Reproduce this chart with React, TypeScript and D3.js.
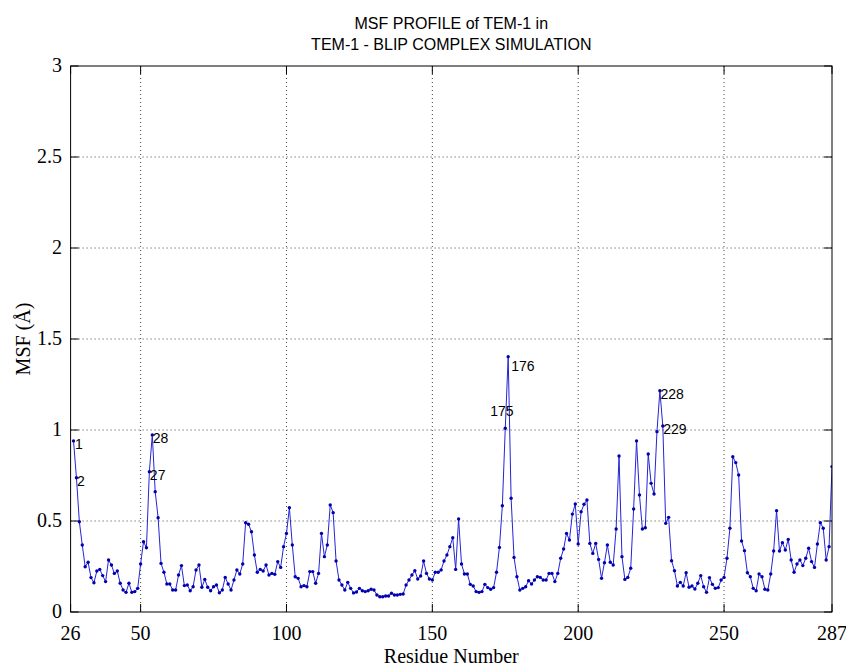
import React from "react";
import * as d3 from "d3";

const residueStart = 27;
const msfValues = [
  0.94, 0.738, 0.496, 0.368, 0.249, 0.273, 0.189, 0.161, 0.225, 0.234,
  0.2, 0.167, 0.286, 0.258, 0.212, 0.225, 0.158, 0.121, 0.108, 0.158,
  0.108, 0.112, 0.13, 0.264, 0.386, 0.353, 0.771, 0.973, 0.661, 0.518,
  0.267, 0.218, 0.154, 0.154, 0.121, 0.121, 0.203, 0.255, 0.145, 0.148,
  0.117, 0.139, 0.231, 0.258, 0.136, 0.179, 0.136, 0.117, 0.139, 0.148,
  0.106, 0.121, 0.19, 0.154, 0.121, 0.176, 0.231, 0.209, 0.264, 0.491,
  0.482, 0.441, 0.313, 0.218, 0.234, 0.225, 0.258, 0.203, 0.212, 0.207,
  0.277, 0.245, 0.359, 0.432, 0.573, 0.368, 0.194, 0.185, 0.139, 0.145,
  0.139, 0.222, 0.222, 0.158, 0.212, 0.432, 0.304, 0.368, 0.588, 0.546,
  0.28, 0.176, 0.148, 0.121, 0.163, 0.13, 0.105, 0.11, 0.13, 0.117,
  0.112, 0.117, 0.125, 0.121, 0.093, 0.084, 0.084, 0.088, 0.088, 0.103,
  0.093, 0.093, 0.097, 0.099, 0.148, 0.176, 0.203, 0.227, 0.181, 0.198,
  0.28, 0.212, 0.181, 0.176, 0.218, 0.218, 0.231, 0.28, 0.313, 0.359,
  0.408, 0.234, 0.511, 0.264, 0.209, 0.209, 0.152, 0.143, 0.112, 0.108,
  0.112, 0.152, 0.134, 0.125, 0.134, 0.218, 0.355, 0.584, 1.01, 1.403,
  0.625, 0.3, 0.194, 0.121, 0.13, 0.139, 0.172, 0.154, 0.176, 0.194,
  0.19, 0.176, 0.176, 0.212, 0.212, 0.167, 0.212, 0.295, 0.346, 0.432,
  0.396, 0.538, 0.593, 0.374, 0.551, 0.592, 0.615, 0.377, 0.322, 0.377,
  0.289, 0.185, 0.271, 0.368, 0.273, 0.258, 0.456, 0.857, 0.304, 0.179,
  0.19, 0.24, 0.566, 0.94, 0.643, 0.456, 0.463, 0.868, 0.707, 0.648,
  0.991, 1.216, 1.022, 0.487, 0.52, 0.282, 0.227, 0.143, 0.163, 0.143,
  0.216, 0.136, 0.143, 0.126, 0.158, 0.2, 0.139, 0.108, 0.189, 0.152,
  0.13, 0.134, 0.176, 0.19, 0.295, 0.46, 0.853, 0.821, 0.753, 0.39,
  0.337, 0.216, 0.194, 0.13, 0.117, 0.209, 0.194, 0.125, 0.121, 0.209,
  0.335, 0.557, 0.335, 0.381, 0.341, 0.399, 0.286, 0.218, 0.264, 0.286,
  0.255, 0.295, 0.35, 0.277, 0.245, 0.374, 0.491, 0.46, 0.286, 0.359,
  0.799,
];
const xDomain = [26, 287];
const yDomain = [0, 3];
const xTicks = [26, 50, 100, 150, 200, 250, 287];
const xGrid = [50, 100, 150, 200, 250];
const yTicks = [0, 0.5, 1, 1.5, 2, 2.5, 3];
const labelResidues = [27, 28, 53, 54, 175, 176, 228, 229];
const labelTexts = ["1", "2", "27", "28", "175", "176", "228", "229"];
const titleLines = ["MSF PROFILE of TEM-1 in", "TEM-1 - BLIP COMPLEX SIMULATION"];
const xTitle = "Residue Number";
const yTitle = "MSF (Å)";

// layout offsets for the point labels (pixels)
const labelOffsets: Record<string, [number, number]> = {
  "1": [1.5, 3],
  "2": [0.5, 3],
  "27": [0.5, 3],
  "28": [0.5, 3],
  "175": [-15, -17],
  "176": [3, 9],
  "228": [0.5, 3],
  "229": [0.5, 3],
};

export default function App() {
  const W = 846, H = 668;
  const L = 70.6, R = 832, T = 66, B = 612;
  const x = d3.scaleLinear().domain(xDomain).range([L, R]);
  const y = d3.scaleLinear().domain(yDomain).range([B, T]);
  const data = msfValues.map((v, i) => ({ r: residueStart + i, v }));
  const line = d3.line<{ r: number; v: number }>().x((d) => x(d.r)).y((d) => y(d.v));
  const serif = "'Liberation Serif', 'Times New Roman', serif";
  const sans = "'Liberation Sans', Arial, sans-serif";
  const tick = 8;
  return (
    <svg width={W} height={H} style={{ position: "fixed", left: 0, top: 0, background: "#fff" }}>
      <rect x={0} y={0} width={W} height={H} fill="#fff" />
      <defs>
        <clipPath id="plot">
          <rect x={L} y={T} width={R - L} height={B - T} />
        </clipPath>
      </defs>
      {/* grid */}
      {xGrid.map((t) => (
        <line key={"gx" + t} x1={x(t)} x2={x(t)} y1={T} y2={B} stroke="#444" strokeWidth={1} strokeDasharray="1 3" />
      ))}
      {yTicks.filter((t) => t > 0 && t < 3).map((t) => (
        <line key={"gy" + t} x1={L} x2={R} y1={y(t)} y2={y(t)} stroke="#444" strokeWidth={1} strokeDasharray="1 3" />
      ))}
      {/* ticks */}
      {xTicks.map((t) => (
        <g key={"tx" + t}>
          <line x1={x(t)} x2={x(t)} y1={B} y2={B - tick} stroke="#000" />
          <line x1={x(t)} x2={x(t)} y1={T} y2={T + tick} stroke="#000" />
          <text x={x(t)} y={640} textAnchor="middle" fontFamily={serif} fontSize={20} fill="#000">{t}</text>
        </g>
      ))}
      {yTicks.map((t) => (
        <g key={"ty" + t}>
          <line x1={L} x2={L + tick} y1={y(t)} y2={y(t)} stroke="#000" />
          <line x1={R} x2={R - tick} y1={y(t)} y2={y(t)} stroke="#000" />
          <text x={62} y={y(t) + 6} textAnchor="end" fontFamily={serif} fontSize={20} fill="#000">{t}</text>
        </g>
      ))}
      {/* data */}
      <g clipPath="url(#plot)">
        <path d={line(data) || ""} fill="none" stroke="#2424d8" strokeWidth={1} />
        {data.map((d) => (
          <circle key={d.r} cx={x(d.r)} cy={y(d.v)} r={1.7} fill="#0000b0" />
        ))}
      </g>
      {/* box */}
      <rect x={L} y={T} width={R - L} height={B - T} fill="none" stroke="#000" strokeWidth={1} />
      {/* point labels */}
      {labelResidues.map((r, i) => {
        const v = msfValues[r - residueStart];
        const [dx, dy] = labelOffsets[labelTexts[i]];
        return (
          <text key={"lb" + i} x={x(r) + dx} y={y(v) + dy + 5} fontFamily={sans} fontSize={14} fill="#000">
            {labelTexts[i]}
          </text>
        );
      })}
      {/* titles */}
      {titleLines.map((s, i) => (
        <text key={"t" + i} x={(L + R) / 2} y={29 + i * 21} textAnchor="middle" fontFamily={sans} fontSize={16} fill="#000">
          {s}
        </text>
      ))}
      <text x={(L + R) / 2} y={663} textAnchor="middle" fontFamily={serif} fontSize={20} fill="#000">{xTitle}</text>
      <text transform={`translate(30,${(T + B) / 2}) rotate(-90)`} textAnchor="middle" fontFamily={serif} fontSize={20} fill="#000">{yTitle}</text>
    </svg>
  );
}
